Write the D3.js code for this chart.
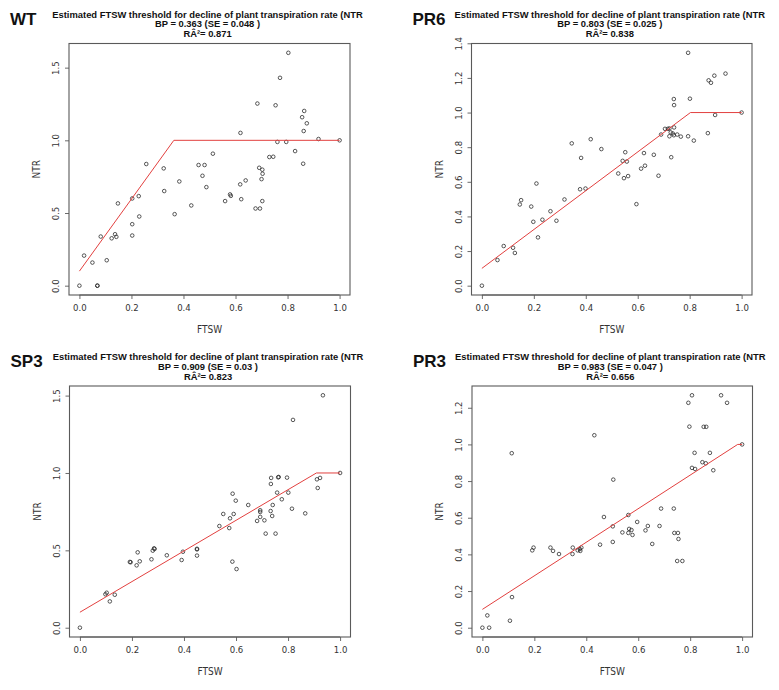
<!DOCTYPE html>
<html>
<head>
<meta charset="utf-8">
<script src="https://cdn.jsdelivr.net/npm/d3@7"></script>
<style>
  html, body { margin: 0; padding: 0; background: #fff; }
  svg { display: block; }
</style>
</head>
<body>
<svg id="chart" width="779" height="690"></svg>
<script>
// ---------------- DATA ----------------
const panelNames = ["WT", "PR6", "SP3", "PR3"];
const bpValues = [0.363, 0.803, 0.909, 0.983];
const seLabels = ["0.048", "0.025", "0.03", "0.047"];
const r2Labels = ["0.871", "0.838", "0.823", "0.656"];
const fitIntercepts = [0.1, 0.1, 0.1, 0.1];
const fitPlateaus = [1.0, 1.0, 1.0, 1.0];

const xTicks = [0, 0.2, 0.4, 0.6, 0.8, 1.0];
const yTicksWT = [0, 0.5, 1.0, 1.5];
const yTicksPR6 = [0, 0.2, 0.4, 0.6, 0.8, 1.0, 1.2, 1.4];
const yTicksSP3 = [0, 0.5, 1.0, 1.5];
const yTicksPR3 = [0, 0.2, 0.4, 0.6, 0.8, 1.0, 1.2];

const wtFTSW = [0.0, 0.018, 0.05, 0.069, 0.069, 0.082, 0.105, 0.124, 0.137, 0.142, 0.148, 0.203, 0.203, 0.203,
  0.228, 0.23, 0.257, 0.324, 0.326, 0.366, 0.384, 0.43, 0.458, 0.481, 0.473, 0.488,
  0.513, 0.56, 0.579, 0.582, 0.619, 0.618, 0.639, 0.622, 0.677, 0.694, 0.703, 0.684, 0.691, 0.703, 0.704, 0.70,
  0.73, 0.745, 0.754, 0.771, 0.761, 0.803, 0.795, 0.829, 0.86, 0.856, 0.864, 0.874, 0.862, 0.919, 1.0];
const wtNTR = [0.0, 0.207, 0.159, 0.0, 0.0, 0.338, 0.175, 0.326, 0.354, 0.336, 0.566, 0.345, 0.423, 0.6,
  0.616, 0.476, 0.837, 0.807, 0.651, 0.492, 0.717, 0.552, 0.83, 0.83, 0.756, 0.678,
  0.908, 0.582, 0.628, 0.618, 1.051, 0.697, 0.724, 0.595, 0.531, 0.531, 0.582, 1.253, 0.811, 0.798, 0.77, 0.733,
  0.885, 0.887, 1.241, 1.43, 0.989, 1.602, 0.989, 0.926, 0.839, 1.159, 1.202, 1.117, 1.064, 1.009, 1.0];

const pr6FTSW = [0.0, 0.06, 0.084, 0.12, 0.127, 0.146, 0.151, 0.19, 0.198, 0.21, 0.216, 0.233, 0.264, 0.287, 0.318,
  0.346, 0.382, 0.378, 0.399, 0.419, 0.46,
  0.794, 0.938, 0.895, 0.873, 0.882, 0.739, 0.801, 0.74, 1.0, 0.898, 0.705, 0.716, 0.722, 0.74, 0.69, 0.727, 0.735,
  0.739, 0.722, 0.752, 0.766, 0.794, 0.816, 0.87, 0.729, 0.662, 0.624, 0.552, 0.542, 0.558, 0.628, 0.613, 0.525,
  0.547, 0.563, 0.68, 0.595];
const pr6NTR = [0.0, 0.148, 0.229, 0.219, 0.189, 0.469, 0.494, 0.457, 0.369, 0.59, 0.279, 0.381, 0.43, 0.375, 0.498,
  0.822, 0.738, 0.557, 0.561, 0.846, 0.789,
  1.345, 1.225, 1.213, 1.186, 1.172, 1.078, 1.08, 1.043, 1.0, 0.986, 0.906, 0.906, 0.908, 0.914, 0.873, 0.885, 0.879,
  0.869, 0.863, 0.873, 0.861, 0.863, 0.838, 0.881, 0.742, 0.756, 0.766, 0.771, 0.721, 0.717, 0.693, 0.676, 0.648,
  0.621, 0.633, 0.635, 0.471];

const sp3FTSW = [0.0, 0.098, 0.103, 0.115, 0.134, 0.192, 0.195, 0.222, 0.218, 0.23, 0.275, 0.28, 0.285, 0.287,
  0.334, 0.391, 0.396, 0.45, 0.45, 0.45,
  0.934, 0.819, 0.735, 0.734, 0.762, 0.764, 0.796, 0.758, 0.801, 0.776, 0.741, 0.693, 0.693, 0.733, 0.739, 0.693,
  0.681, 0.709, 0.714, 0.752, 0.815, 0.866, 0.647, 0.587, 0.599, 0.551, 0.591, 0.577, 0.536, 0.574, 0.586, 0.602,
  0.911, 0.923, 0.914, 1.0];
const sp3NTR = [0.0, 0.216, 0.226, 0.17, 0.213, 0.425, 0.423, 0.487, 0.403, 0.429, 0.442, 0.498, 0.513, 0.509,
  0.468, 0.4375, 0.491, 0.506, 0.51, 0.466,
  1.502, 1.343, 0.968, 0.929, 0.972, 0.974, 0.97, 0.873, 0.873, 0.83, 0.793, 0.759, 0.748, 0.754, 0.722, 0.716,
  0.69, 0.694, 0.608, 0.608, 0.769, 0.739, 0.793, 0.866, 0.821, 0.735, 0.735, 0.707, 0.657, 0.644, 0.427, 0.379,
  0.959, 0.968, 0.903, 1.0];

const pr3FTSW = [0.0, 0.026, 0.019, 0.106, 0.114, 0.113, 0.192, 0.197, 0.262, 0.272, 0.295, 0.347, 0.348, 0.367,
  0.375, 0.377, 0.381, 0.431, 0.453, 0.468,
  0.504, 0.502, 0.502, 0.562, 0.539, 0.562, 0.565, 0.574, 0.578, 0.596, 0.628, 0.637, 0.654, 0.682, 0.688, 0.737,
  0.739, 0.753, 0.755, 0.75, 0.77, 0.807, 0.793, 0.919, 0.942, 0.797, 0.852, 0.862, 0.817, 0.876, 0.807, 0.819,
  0.847, 0.86, 0.889, 1.0];
const pr3NTR = [0.0, 0.0, 0.067, 0.038, 0.167, 0.952, 0.422, 0.437, 0.437, 0.419, 0.402, 0.402, 0.437, 0.422,
  0.429, 0.419, 0.437, 1.05, 0.453, 0.604,
  0.808, 0.553, 0.468, 0.615, 0.52, 0.517, 0.539, 0.533, 0.506, 0.577, 0.531, 0.555, 0.457, 0.555, 0.65, 0.65,
  0.517, 0.517, 0.484, 0.364, 0.364, 1.268, 1.227, 1.268, 1.227, 1.097, 1.096, 1.096, 0.954, 0.954, 0.872, 0.866,
  0.903, 0.897, 0.859, 1.0];

// ---------------- LAYOUT ----------------
const boxes = [
  { left: 69,   right: 350,   top: 43.5, bottom: 295 },
  { left: 471.5, right: 752,  top: 43.5, bottom: 295 },
  { left: 69.5, right: 350.5, top: 386,  bottom: 637 },
  { left: 472,  right: 752.5, top: 386,  bottom: 637 }
];
const xsAll = [wtFTSW, pr6FTSW, sp3FTSW, pr3FTSW];
const ysAll = [wtNTR, pr6NTR, sp3NTR, pr3NTR];
const yTicksAll = [yTicksWT, yTicksPR6, yTicksSP3, yTicksPR3];

const fmt = d3.format(".1f");
const tickFont = "'Liberation Sans Narrow', 'Arial Narrow', 'DejaVu Sans Condensed', sans-serif";
const titleFont = "'Liberation Sans', Arial, sans-serif";
const axisColor = "#5a5a5a";
const textColor = "#333";

const svg = d3.select("#chart");

function rExt(arr) {
  const [lo, hi] = d3.extent(arr);
  const pad = (hi - lo) * 0.04;
  return [lo - pad, hi + pad];
}

panelNames.forEach((name, i) => {
  const b = boxes[i];
  const xs = xsAll[i], ys = ysAll[i];
  const x = d3.scaleLinear().domain(rExt(xs)).range([b.left, b.right]);
  const y = d3.scaleLinear().domain(rExt(ys)).range([b.bottom, b.top]);
  const g = svg.append("g");
  const cx = (b.left + b.right) / 2;
  const cy = (b.top + b.bottom) / 2;

  // titles
  g.append("text").attr("x", b.left - 59).attr("y", b.top - 19)
    .attr("font-family", titleFont).attr("font-weight", "bold").attr("font-size", 17)
    .attr("fill", "#111").text(name);
  const tLines = [
    "Estimated FTSW threshold for decline of plant transpiration rate (NTR",
    "BP = " + bpValues[i] + " (SE = " + seLabels[i] + " )",
    "RÂ²= " + r2Labels[i]
  ];
  tLines.forEach((t, k) => {
    g.append("text").attr("x", cx - 2).attr("y", b.top - 26 + k * 9.8)
      .attr("text-anchor", "middle")
      .attr("font-family", titleFont).attr("font-weight", "bold").attr("font-size", 9.4)
      .attr("fill", "#111").text(t);
  });

  // axes
  const xAxis = d3.axisBottom(x).tickValues(xTicks).tickFormat(fmt).tickSizeOuter(0).tickSize(4).tickPadding(5);
  const gx = g.append("g").attr("transform", `translate(0,${b.bottom})`).call(xAxis);
  const yAxis = d3.axisLeft(y).tickValues(yTicksAll[i]).tickFormat(fmt).tickSizeOuter(0).tickSize(4).tickPadding(4);
  const gy = g.append("g").attr("transform", `translate(${b.left},0)`).call(yAxis);
  [gx, gy].forEach(a => {
    a.select(".domain").remove();
    a.selectAll("line").attr("stroke", axisColor).attr("stroke-width", 0.9);
    a.selectAll("text").attr("font-family", tickFont).attr("font-size", 9.5).attr("fill", textColor);
  });
  // x axis line from first to last tick
  g.append("line").attr("x1", x(xTicks[0])).attr("x2", x(xTicks[xTicks.length - 1]))
    .attr("y1", b.bottom).attr("y2", b.bottom).attr("stroke", axisColor);
  gy.selectAll(".tick text")
    .attr("transform", "rotate(-90)")
    .attr("x", 0).attr("y", -10).attr("dy", 0)
    .attr("text-anchor", "middle");

  // box
  g.append("rect").attr("x", b.left).attr("y", b.top)
    .attr("width", b.right - b.left).attr("height", b.bottom - b.top)
    .attr("fill", "none").attr("stroke", axisColor).attr("stroke-width", 1.1);

  // axis titles
  g.append("text").attr("x", cx).attr("y", b.bottom + 38)
    .attr("text-anchor", "middle").attr("font-family", tickFont).attr("font-size", 10)
    .attr("fill", textColor).text("FTSW");
  g.append("text").attr("transform", `translate(${b.left - 29},${cy}) rotate(-90)`)
    .attr("text-anchor", "middle").attr("font-family", tickFont).attr("font-size", 10)
    .attr("fill", textColor).text("NTR");

  // points
  g.append("g").selectAll("circle").data(xs.map((v, k) => [v, ys[k]])).join("circle")
    .attr("cx", d => x(d[0])).attr("cy", d => y(d[1])).attr("r", 1.8)
    .attr("fill", "none").attr("stroke", "#222").attr("stroke-width", 0.75);

  // segmented fit line
  const fitX = [0, bpValues[i], 1];
  const fitY = [fitIntercepts[i], fitPlateaus[i], fitPlateaus[i]];
  const line = d3.line().x(d => x(d[0])).y(d => y(d[1]));
  g.append("path").datum(fitX.map((v, k) => [v, fitY[k]]))
    .attr("d", line).attr("fill", "none").attr("stroke", "#e2403f").attr("stroke-width", 1);
});
</script>
</body>
</html>
